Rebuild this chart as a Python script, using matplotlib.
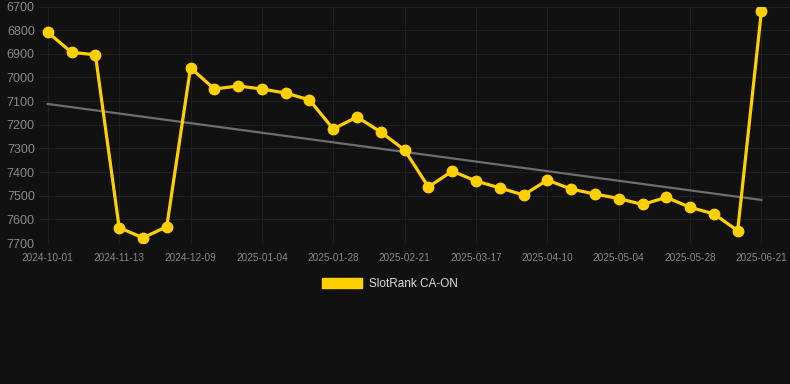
import matplotlib
matplotlib.use("Agg")
from matplotlib import pyplot as plt
from matplotlib.patches import Patch

# data
dates = ["2024-10-01", "2024-10-15", "2024-10-29", "2024-11-13", "2024-11-21",
         "2024-11-30", "2024-12-09", "2024-12-18", "2024-12-26", "2025-01-04",
         "2025-01-12", "2025-01-20", "2025-01-28", "2025-02-05", "2025-02-13",
         "2025-02-21", "2025-03-01", "2025-03-09", "2025-03-17", "2025-03-25",
         "2025-04-02", "2025-04-10", "2025-04-18", "2025-04-26", "2025-05-04",
         "2025-05-12", "2025-05-20", "2025-05-28", "2025-06-05", "2025-06-13",
         "2025-06-21"]
ranks = [6809, 6894, 6904, 7635, 7678, 7631, 6959, 7049, 7036, 7049,
         7066, 7095, 7218, 7167, 7231, 7307, 7463, 7396, 7438, 7467,
         7497, 7434, 7472, 7493, 7512, 7537, 7507, 7549, 7577, 7648,
         6718]
trend_ends = [7112, 7518]
yticks = [6700, 6800, 6900, 7000, 7100, 7200, 7300, 7400, 7500, 7600, 7700]

BG = "#111111"
GOLD = "#FFD000"
plt.rcParams["font.family"] = ["Liberation Sans", "DejaVu Sans"]

fig = plt.figure(figsize=(7.9, 3.84), dpi=100, facecolor=BG)
ax = fig.add_axes([39 / 790, 1 - 243 / 384, 1 - 39 / 790, (243 - 6.5) / 384])
ax.set_facecolor(BG)

x = list(range(len(dates)))
ax.plot([x[0], x[-1]], trend_ends, color="#6e6e6e", lw=1.6, zorder=2)
ax.plot(x, ranks, color=GOLD, lw=2.3, marker="o", markersize=7.5, zorder=3)

ax.set_ylim(7700, 6700)
ax.set_yticks(yticks)
ax.set_xlim(-0.37, 31.2)
ax.set_xticks(x[::3])
ax.set_xticklabels(dates[::3])

ax.grid(True, color="#1f1f1f", lw=0.8)
for s in ax.spines.values():
    s.set_visible(False)
ax.tick_params(axis="y", length=0, pad=3, labelsize=9, labelcolor="#888888")
ax.tick_params(axis="x", length=0, pad=7, labelsize=7.2, labelcolor="#888888")

handle = Patch(facecolor=GOLD, edgecolor=GOLD)
fig.legend([handle], ["SlotRank CA-ON"], loc="center", bbox_to_anchor=(390 / 790, 1 - 284 / 384),
           frameon=False, fontsize=8.5, labelcolor="#dddddd",
           handlelength=3.4, handleheight=1.0, handletextpad=0.6)

fig.savefig("out.png", dpi=100, facecolor=BG)
